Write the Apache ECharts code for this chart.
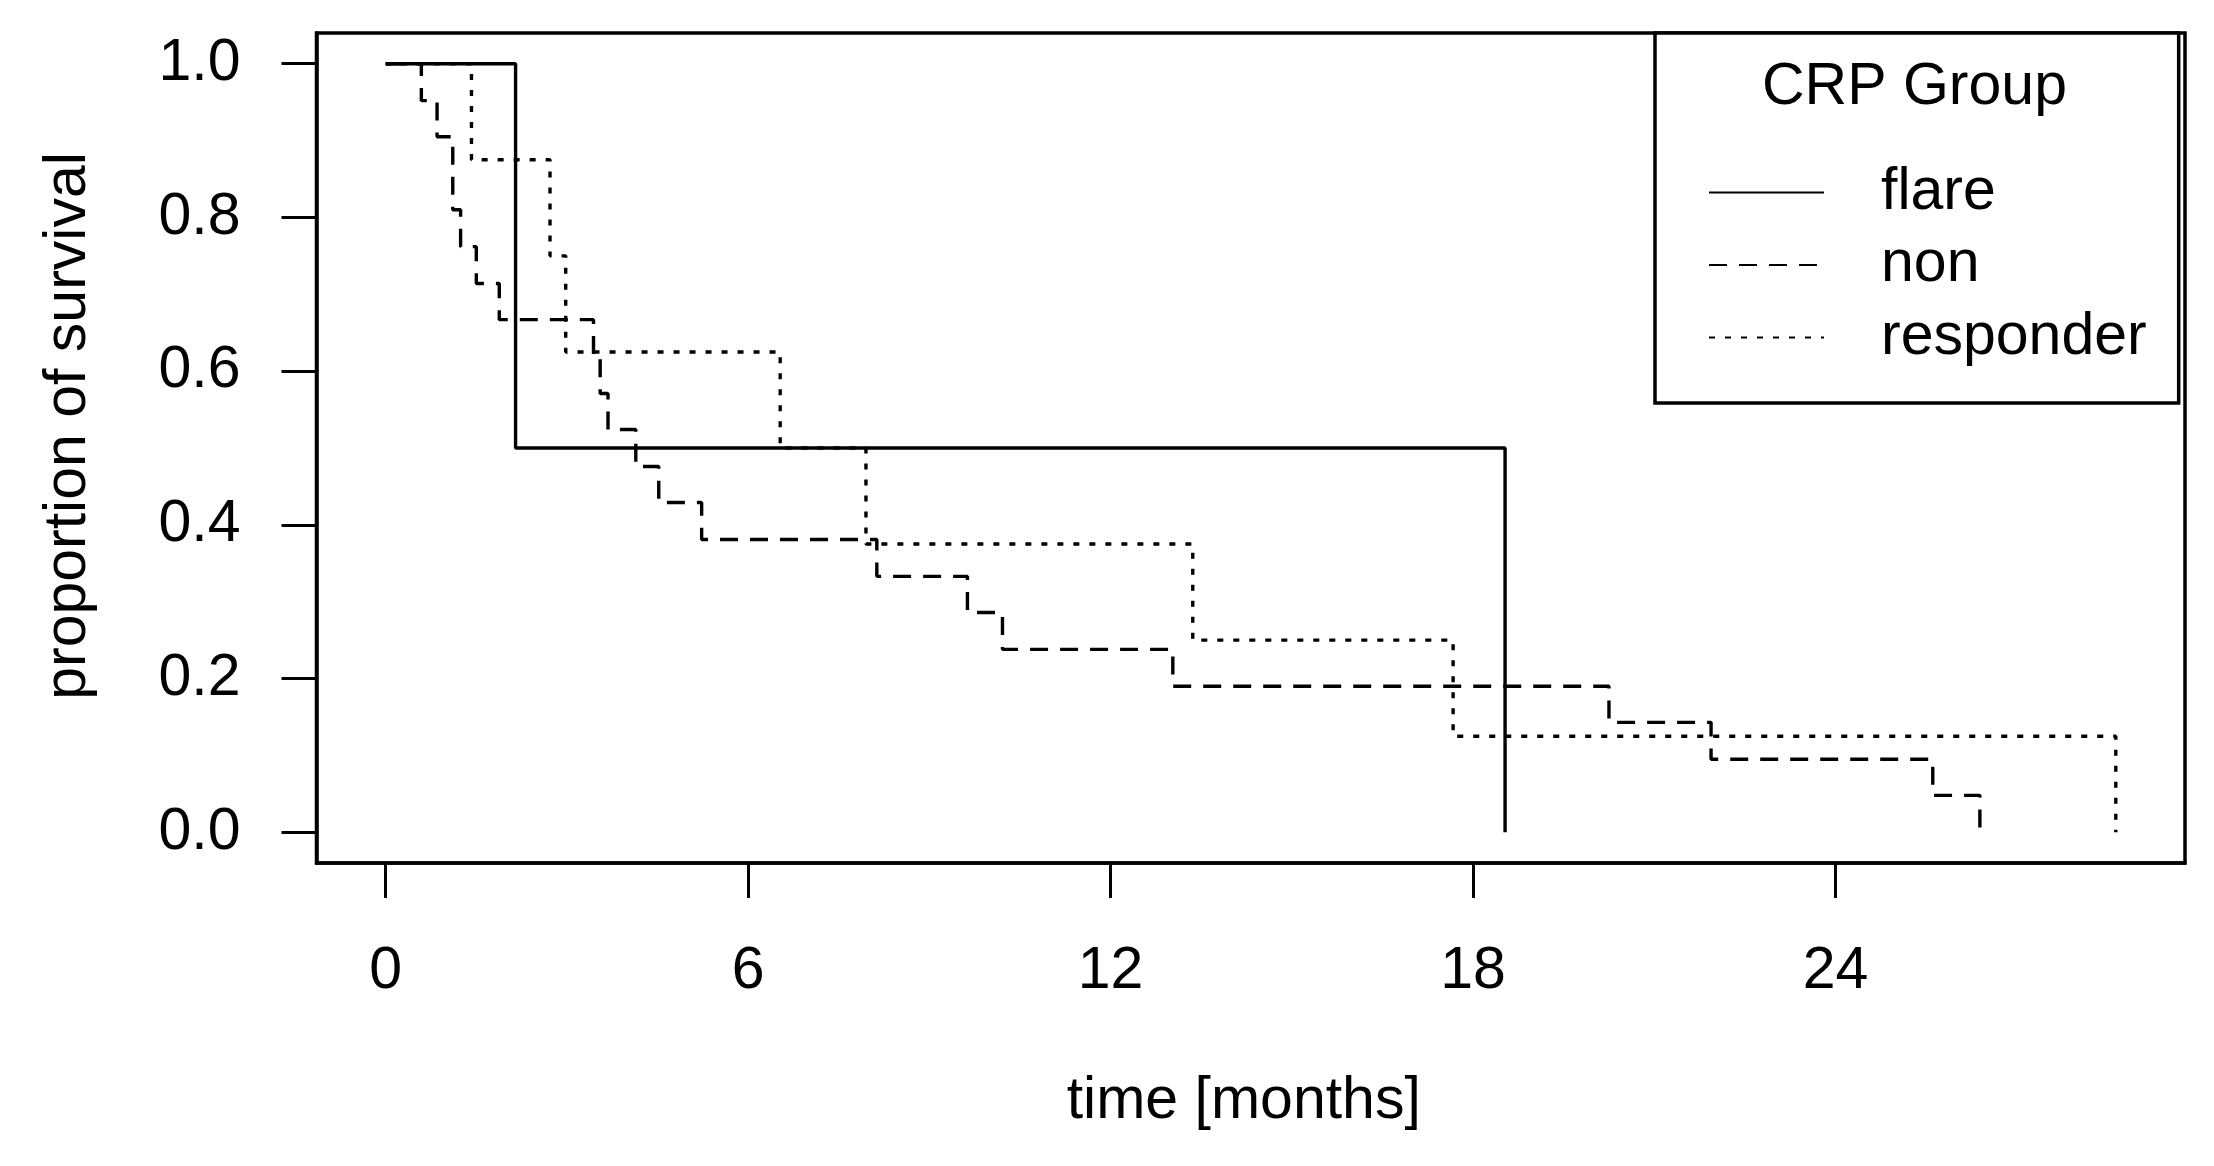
<!DOCTYPE html>
<html>
<head>
<meta charset="utf-8">
<script src="https://cdn.jsdelivr.net/npm/echarts@6/dist/echarts.min.js"></script>
<style>
html,body{margin:0;padding:0;background:#fff;}
#chart{width:2214px;height:1166px;}
</style>
</head>
<body>
<div id="chart"></div>
<script>
// Kaplan-Meier step data (time in months, proportion of survival)
const groupNames = ['flare', 'non', 'responder'];
const flareTime = [0, 2.15, 18.53];
const flareSurv = [1.0, 0.5, 0.0];
const nonTime = [0, 0.59, 0.85, 1.11, 1.24, 1.50, 1.88, 3.44, 3.55, 3.68, 4.14, 4.52, 5.23, 8.13, 9.63, 10.21, 13.03, 20.25, 21.94, 25.61, 26.39];
const nonSurv = [1.0, 0.952, 0.905, 0.810, 0.762, 0.714, 0.667, 0.619, 0.571, 0.524, 0.476, 0.429, 0.381, 0.333, 0.286, 0.238, 0.190, 0.143, 0.095, 0.048, 0.0];
const respTime = [0, 1.42, 2.72, 2.98, 6.53, 7.95, 13.36, 17.67, 28.64];
const respSurv = [1.0, 0.875, 0.75, 0.625, 0.5, 0.375, 0.25, 0.125, 0.0];
const xTicks = [0, 6, 12, 18, 24];
const yTicks = [0, 0.2, 0.4, 0.6, 0.8, 1.0];
const xTitle = 'time [months]';
const yTitle = 'proportion of survival';
const legendTitle = 'CRP Group';

const FONT = 'Liberation Sans, Arial, sans-serif';
const FS = 59;
const LW = 3.4;
const pairs = (t, s) => t.map((v, i) => [v, s[i]]);
const xMaxData = 28.64;
const xPad = xMaxData * 0.04;

const chart = echarts.init(document.getElementById('chart'));
chart.setOption({
  animation: false,
  backgroundColor: '#fff',
  textStyle: { fontFamily: FONT, color: '#000' },
  grid: { left: 316.5, right: 29, top: 33, bottom: 303, show: true, borderColor: '#000', borderWidth: 3.5, backgroundColor: 'transparent' },
  title: {
    text: legendTitle, left: 1762, top: 58, padding: 0,
    textStyle: { fontSize: FS, fontWeight: 'normal', fontFamily: FONT, color: '#000' }
  },
  legend: {
    orient: 'vertical', left: 1655, top: 33,
    padding: [130, 32, 36, 53],
    itemWidth: 115, itemHeight: 20, itemGap: 13.5,
    borderColor: '#000', borderWidth: 3.5, borderRadius: 0, backgroundColor: '#fff',
    selectedMode: false,
    itemStyle: { opacity: 0, borderWidth: 0 },
    data: groupNames,
    formatter: name => '{t|' + name + '}',
    textStyle: {
      rich: { t: { fontSize: FS, fontFamily: FONT, color: '#000', padding: [0, 0, 0, 52], lineHeight: 60 } }
    }
  },
  xAxis: {
    type: 'value', min: -xPad, max: xMaxData + xPad,
    name: xTitle, nameLocation: 'middle', nameGap: 209,
    nameTextStyle: { fontSize: FS, fontFamily: FONT, color: '#000', padding: [0, 14, 0, 0] },
    axisLine: { show: true, onZero: false, lineStyle: { color: '#000', width: 3.5 } },
    axisTick: { show: true, inside: false, length: 35, customValues: xTicks, lineStyle: { color: '#000', width: 3 } },
    axisLabel: { show: true, margin: 79, customValues: xTicks, fontSize: FS, fontFamily: FONT, color: '#000' },
    splitLine: { show: false }
  },
  yAxis: {
    type: 'value', min: -0.04, max: 1.04,
    name: yTitle, nameLocation: 'middle', nameRotate: 90, nameGap: 218,
    nameTextStyle: { fontSize: FS, fontFamily: FONT, color: '#000', padding: [0, 0, 0, 44] },
    axisLine: { show: true, onZero: false, lineStyle: { color: '#000', width: 3.5 } },
    axisTick: { show: true, inside: false, length: 35, customValues: yTicks, lineStyle: { color: '#000', width: 3 } },
    axisLabel: { show: true, margin: 76, customValues: yTicks, fontSize: FS, fontFamily: FONT, color: '#000',
      padding: [14, 0, 0, 0], formatter: v => Number(v).toFixed(1) },
    splitLine: { show: false }
  },
  series: [
    { name: groupNames[0], type: 'line', step: 'end', symbol: 'none', showSymbol: false,
      data: pairs(flareTime, flareSurv),
      lineStyle: { color: '#000', width: LW, type: 'solid', cap: 'butt' }, itemStyle: { color: '#000' } },
    { name: groupNames[1], type: 'line', step: 'end', symbol: 'none', showSymbol: false,
      data: pairs(nonTime, nonSurv),
      lineStyle: { color: '#000', width: LW, type: [18, 12], cap: 'butt' }, itemStyle: { color: '#000' } },
    { name: groupNames[2], type: 'line', step: 'end', symbol: 'none', showSymbol: false,
      data: pairs(respTime, respSurv),
      lineStyle: { color: '#000', width: LW, type: [6, 10], cap: 'butt' }, itemStyle: { color: '#000' } }
  ]
});
</script>
</body>
</html>
